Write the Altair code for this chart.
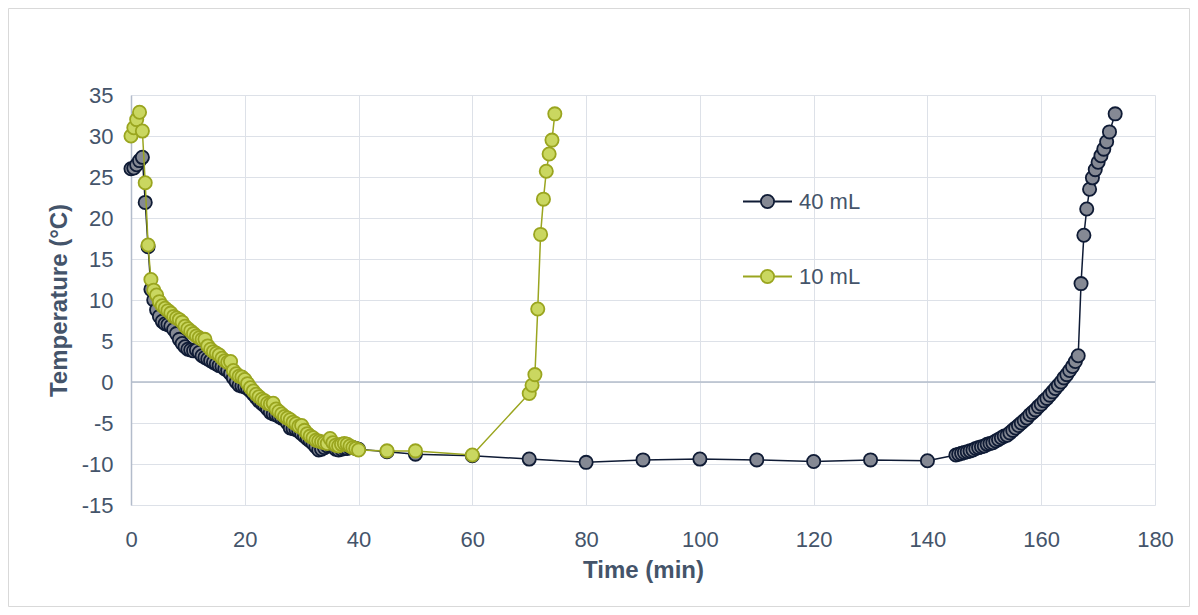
import altair as alt
import pandas as pd

# ---------------- data ----------------
time_40 = [0, 0.5, 1, 1.5, 2, 2.5, 3, 3.5, 4, 4.5, 5, 5.5, 6, 6.5, 7, 7.5, 8, 8.5, 9, 9.5,
           10, 10.5, 11, 11.5, 12, 12.5, 13, 13.5, 14, 14.5, 15, 15.5, 16, 16.5, 17, 17.5, 18, 18.5, 19, 19.5,
           20, 20.5, 21, 21.5, 22, 22.5, 23, 23.5, 24, 24.5, 25, 25.5, 26, 26.5, 27, 27.5, 28, 28.5, 29, 29.5,
           30, 30.5, 31, 31.5, 32, 32.5, 33, 33.5, 34, 34.5, 35, 35.5, 36, 36.5, 37, 37.5, 38, 38.5, 39, 39.5,
           40, 45, 50, 60, 70, 80, 90, 100, 110, 120, 130, 140,
           145, 145.5, 146, 146.5, 147, 147.5, 148, 148.5, 149, 149.5, 150, 150.5, 151, 151.5, 152, 152.5,
           153, 153.5, 154, 154.5, 155, 155.5, 156, 156.5, 157, 157.5, 158, 158.5, 159, 159.5, 160, 160.5,
           161, 161.5, 162, 162.5, 163, 163.5, 164, 164.5, 165, 165.5, 166, 166.5,
           167, 167.5, 168, 168.5, 169, 169.5, 170, 170.5, 171, 171.5, 172, 173]
temp_40 = [26.0, 26.1, 26.5, 27.0, 27.4, 21.9, 16.5, 11.3, 10.0, 8.8,
           8.0, 7.4, 7.1, 7.0, 6.8, 6.4, 5.9, 5.2, 4.7, 4.3,
           4.0, 3.9, 3.8, 3.9, 3.6, 3.2, 3.0, 2.8, 2.6, 2.4,
           2.2, 2.0, 1.9, 1.6, 1.4, 1.0, 0.5, 0.0, -0.4, -0.5,
           -0.6, -0.8, -1.1, -1.5, -1.9, -2.3, -2.6, -2.9, -3.3, -3.7,
           -3.9, -4.0, -4.2, -4.4, -4.5, -5.0, -5.6, -5.7, -5.8, -6.0,
           -6.3, -6.6, -6.9, -7.2, -7.5, -7.9, -8.3, -8.2, -8.0, -7.8,
           -7.7, -7.9, -8.2, -8.3, -8.2, -8.1, -8.1, -8.0, -8.0, -8.1,
           -8.2, -8.5, -8.8, -9.0, -9.4, -9.8, -9.5, -9.4, -9.5, -9.7, -9.5, -9.6,
           -8.9, -8.8, -8.7, -8.6, -8.5, -8.4, -8.3, -8.1, -8.0, -7.9,
           -7.8, -7.6, -7.5, -7.4, -7.2, -7.0, -6.8, -6.6, -6.5, -6.2,
           -5.9, -5.6, -5.3, -5.0, -4.7, -4.4, -4.0, -3.7, -3.4, -3.0,
           -2.7, -2.3, -2.0, -1.6, -1.2, -0.8, -0.4, 0.0, 0.5, 0.9,
           1.4, 1.9, 2.5, 3.2,
           12.0, 17.9, 21.1, 23.5, 24.9, 25.9, 26.8, 27.6, 28.4, 29.3, 30.5, 32.7]

time_10 = [0, 0.5, 1, 1.5, 2, 2.5, 3, 3.5, 4, 4.5, 5, 5.5, 6, 6.5, 7, 7.5, 8, 8.5, 9, 9.5,
           10, 10.5, 11, 11.5, 12, 12.5, 13, 13.5, 14, 14.5, 15, 15.5, 16, 16.5, 17, 17.5, 18, 18.5, 19, 19.5,
           20, 20.5, 21, 21.5, 22, 22.5, 23, 23.5, 24, 24.5, 25, 25.5, 26, 26.5, 27, 27.5, 28, 28.5, 29, 29.5,
           30, 30.5, 31, 31.5, 32, 32.5, 33, 33.5, 34, 34.5, 35, 35.5, 36, 36.5, 37, 37.5, 38, 38.5, 39, 39.5,
           40, 45, 50, 60, 70, 70.5, 71, 71.5, 72, 72.5, 73, 73.5, 74, 74.5]
temp_10 = [30.0, 31.0, 32.0, 32.9, 30.6, 24.3, 16.7, 12.5, 11.2, 10.6,
           9.8, 9.3, 9.0, 8.7, 8.4, 8.0, 7.8, 7.6, 7.3, 6.8,
           6.5, 6.2, 5.9, 5.6, 5.4, 5.2, 5.2, 4.4, 4.0, 3.7,
           3.5, 3.3, 2.9, 2.6, 2.4, 2.5, 1.4, 1.0, 0.7, 0.6,
           0.3, -0.2, -0.7, -1.1, -1.5, -1.8, -2.1, -2.3, -2.6, -2.7,
           -2.6, -3.3, -3.6, -3.9, -4.2, -4.4, -4.6, -4.9, -5.1, -5.4,
           -5.3, -5.9, -6.3, -6.6, -6.8, -7.1, -7.2, -7.3, -7.4, -7.5,
           -6.9, -7.4, -7.7, -7.8, -7.6, -7.5, -7.6, -7.8, -8.0, -8.1,
           -8.3, -8.4, -8.4, -8.9, -1.4, -0.4, 0.9, 8.9, 18.0, 22.3, 25.7, 27.8, 29.5, 32.7]

series_names = ["40 mL", "10 mL"]
x_ticks = [0, 20, 40, 60, 80, 100, 120, 140, 160, 180]
y_ticks = [-15, -10, -5, 0, 5, 10, 15, 20, 25, 30, 35]

# ---------------- styling ----------------
FONT = "Liberation Sans"
TEXT = "#44546a"
GRID = "#dde1e8"
AXIS = "#b3bccb"
NAVY = "#0f1b35"
OLIVE = "#9aa51f"
FILL40 = "#858994"
FILL10 = "#cad760"

df40 = pd.DataFrame({"time": time_40, "temp": temp_40, "series": series_names[0]})
df10 = pd.DataFrame({"time": time_10, "temp": temp_10, "series": series_names[1]})

x_enc = alt.X("time:Q", title="Time (min)",
              scale=alt.Scale(domain=[0, 180], nice=False, zero=False),
              axis=alt.Axis(values=x_ticks, grid=True, gridColor=GRID, gridWidth=1,
                            domain=False, ticks=False, tickSize=0,
                            labelFont=FONT, labelFontSize=22, labelColor=TEXT,
                            labelPadding=24, labelFlush=False, labelOverlap=False,
                            labelExpr="datum.value",
                            titleFont=FONT, titleFontSize=24, titleFontWeight="bold",
                            titleColor=TEXT, titlePadding=8))
y_enc = alt.Y("temp:Q", title="Temperature (°C)",
              scale=alt.Scale(domain=[-15, 35], nice=False, zero=False),
              axis=alt.Axis(values=y_ticks, grid=True, gridColor=GRID, gridWidth=1,
                            domain=True, domainColor=AXIS, domainWidth=1.5,
                            ticks=False, tickSize=0,
                            labelFont=FONT, labelFontSize=22, labelColor=TEXT,
                            labelPadding=18, labelFlush=False, labelOverlap=False,
                            labelExpr="datum.value",
                            titleFont=FONT, titleFontSize=24, titleFontWeight="bold",
                            titleColor=TEXT, titlePadding=10))

legend_symbol = ("M-1,0L-0.27,0M0.27,0L1,0M-0.27,0A0.27,0.27,0,1,1,0.27,0"
                 "A0.27,0.27,0,1,1,-0.27,0Z")
legend = alt.Legend(title=None, orient="none", legendX=611, legendY=81,
                    direction="vertical", padding=0,
                    symbolType=legend_symbol, symbolSize=2401, symbolStrokeWidth=1.8,
                    symbolOpacity=1, labelFont=FONT, labelFontSize=22, labelColor=TEXT,
                    labelOffset=6, rowPadding=38)

fill_scale = alt.Scale(domain=series_names, range=[FILL40, FILL10])
stroke_scale = alt.Scale(domain=series_names, range=[NAVY, OLIVE])

border = alt.Chart(pd.DataFrame({"k": [0]})).mark_rect(
    fillOpacity=0, stroke="#d9d9d9", strokeWidth=1
).encode(x=alt.value(-122.5), x2=alt.value(1058.5), y=alt.value(-86.5), y2=alt.value(511.5))

zero = alt.Chart(pd.DataFrame({"k": [0]})).mark_rule(color=AXIS, strokeWidth=1.5).encode(
    y=alt.datum(0, type="quantitative"))


def series_layers(df, line_color):
    line = alt.Chart(df).mark_line(strokeWidth=1.5, color=line_color).encode(
        x=x_enc, y=y_enc)
    pts = alt.Chart(df).mark_point(filled=True, size=175, strokeWidth=1.8, opacity=1).encode(
        x=x_enc, y=y_enc,
        fill=alt.Fill("series:N", scale=fill_scale, legend=legend),
        stroke=alt.Stroke("series:N", scale=stroke_scale, legend=legend))
    return [line, pts]


chart = alt.layer(
    border, zero, *series_layers(df40, NAVY), *series_layers(df10, OLIVE)
).properties(
    width=1024, height=410,
    padding={"left": 123, "top": 87, "right": 35, "bottom": 102},
    autosize=alt.AutoSizeParams(type="none"),
    background="white",
).configure_view(strokeWidth=0)

chart.save("out.html", embed_options={"renderer": "svg", "actions": False})
